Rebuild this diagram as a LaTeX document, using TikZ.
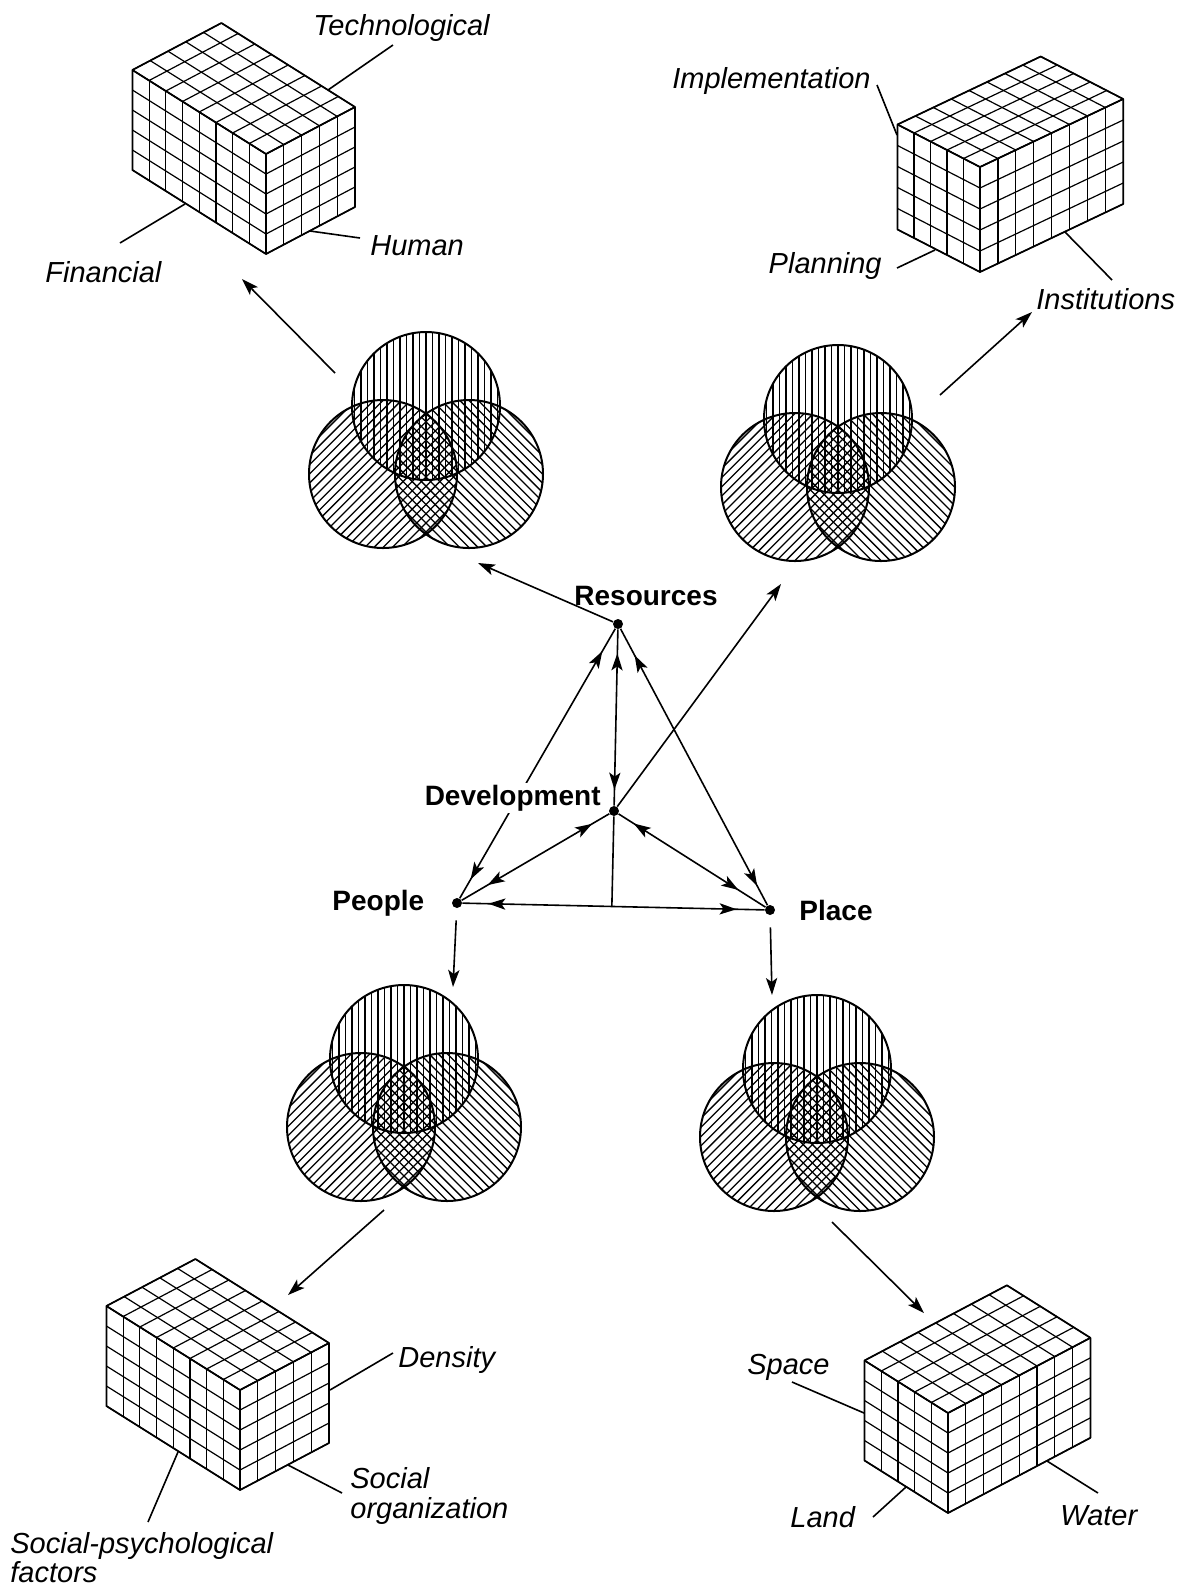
\documentclass[tikz,border=0pt]{standalone}
\usepackage{fontspec}
\setmainfont{Liberation Sans}
\usetikzlibrary{arrows.meta,calc,decorations.markings}
\tikzset{
  cubeln/.style={line width=0.6pt},
  cubeedge/.style={line width=0.85pt, line join=round},
  hatchln/.style={line width=0.65pt},
  ringln/.style={line width=1pt},
  link/.style={line width=0.8pt},
  leader/.style={line width=0.8pt},
  netdot/.style={circle, fill=black, inner sep=0pt, minimum size=5pt},
  keylab/.style={font=\fontsize{14}{16}\selectfont\bfseries, inner sep=1pt},
  itlab/.style={font=\fontsize{14.5}{17}\selectfont\itshape, inner sep=0pt},
  >={Stealth[length=8.5pt,width=5.6pt,inset=2pt]},
  twoheads/.style 2 args={postaction={decorate}, decoration={markings,
      mark=at position #1 with {\arrowreversed{>}},
      mark=at position -#2 with {\arrow{>}}}},
}
% cuboid: #1 shift (front-top vertex), #2 cells on left face, #3 cells on right face, #4 axis vectors
\newcommand\cuboid[4]{%
  \begin{scope}[shift={#1},#4]
    \foreach \i in {0,...,#2} \draw[cubeln] (\i,0,0) -- (\i,#3,0);
    \foreach \k in {0,...,#3} \draw[cubeln] (0,\k,0) -- (#2,\k,0);
    \foreach \i in {0,...,#2} \draw[cubeln] (\i,0,0) -- (\i,0,5);
    \foreach \j in {0,...,5} \draw[cubeln] (0,0,\j) -- (#2,0,\j);
    \foreach \k in {0,...,#3} \draw[cubeln] (0,\k,0) -- (0,\k,5);
    \foreach \j in {0,...,5} \draw[cubeln] (0,0,\j) -- (0,#3,\j);
    \draw[cubeedge] (#2,0,0) -- (#2,#3,0) -- (0,#3,0) -- (0,#3,5) -- (0,0,5) -- (#2,0,5) -- cycle;
    \draw[cubeedge] (#2,0,0) -- (0,0,0) -- (0,#3,0) (0,0,0) -- (0,0,5);
  \end{scope}}
% three-circle hatched diagram, #1 = centre of top circle
\newcommand\venn[1]{%
  \begin{scope}[shift={#1}]
    \begin{scope}
      \clip (0,0) circle[radius=37pt];
      \foreach \k in {-78,-71.5,...,78} \draw[hatchln] (\k,-80) -- (\k,80);
    \end{scope}
    \begin{scope}[shift={(-43,68)}]
      \clip (0,0) circle[radius=37pt];
      \foreach \k in {-78,-71.5,...,78} \draw[hatchln,rotate=-45] (\k,-80) -- (\k,80);
    \end{scope}
    \begin{scope}[shift={(43,68)}]
      \clip (0,0) circle[radius=37pt];
      \foreach \k in {-78,-71.5,...,78} \draw[hatchln,rotate=45] (\k,-80) -- (\k,80);
    \end{scope}
    \draw[ringln] (0,0) circle[radius=37pt] (-43,68) circle[radius=37pt] (43,68) circle[radius=37pt];
  \end{scope}}
\begin{document}
\begin{tikzpicture}[x=0.5pt,y=-0.5pt]
\fill[white] (0,0) rectangle (1185,1592);
\useasboundingbox (0,0) rectangle (1185,1592);

% ---------- cubes ----------
\cuboid{(266,154)}{8}{5}{x={(-8.35pt,5.25pt)},y={(8.9pt,4.7pt)},z={(0pt,-10pt)}}
\cuboid{(980,167)}{5}{8}{x={(-8.25pt,4.25pt)},y={(8.95pt,4.25pt)},z={(0pt,-10.5pt)}}
\cuboid{(240,1390)}{8}{5}{x={(-8.35pt,5.25pt)},y={(8.9pt,4.7pt)},z={(0pt,-10pt)}}
\cuboid{(948,1413)}{5}{8}{x={(-8.35pt,5.25pt)},y={(8.9pt,4.7pt)},z={(0pt,-10pt)}}

% ---------- venn diagrams ----------
\venn{(426,406)}
\venn{(838,419)}
\venn{(404,1059)}
\venn{(817,1069)}

% ---------- cube labels ----------
\node[itlab, anchor=base west] (tech) at (313,35) {Technological};
\node[itlab, anchor=base west] (human) at (370,255) {Human};
\node[itlab, anchor=base west] (fin) at (45,282) {Financial};
\node[itlab, anchor=base east] (impl) at (871,88) {Implementation};
\node[itlab, anchor=base east] (plan) at (882,273) {Planning};
\node[itlab, anchor=base west] (inst) at (1036,309) {Institutions};
\node[itlab, anchor=base west] (dens) at (398,1367) {Density};
\node[itlab, anchor=base west] (soc1) at (350,1488) {Social};
\node[itlab, anchor=base west] (soc2) at (350,1518) {organization};
\node[itlab, anchor=base west] (psy1) at (10,1553) {Social-psychological};
\node[itlab, anchor=base west] (psy2) at (10,1582) {factors};
\node[itlab, anchor=base west] (space) at (747,1374) {Space};
\node[itlab, anchor=base west] (land) at (790,1527) {Land};
\node[itlab, anchor=base west] (water) at (1060,1525) {Water};

% ---------- leader lines ----------
\coordinate (techA) at (328,90);   \coordinate (techB) at (393,45);
\coordinate (humA) at (310,231);   \coordinate (humB) at (360,238);
\coordinate (finA) at (185,204);   \coordinate (finB) at (120,243);
\coordinate (implA) at (877,85);   \coordinate (implB) at (897,135);
\coordinate (planA) at (935,250);  \coordinate (planB) at (897,268);
\coordinate (instA) at (1065,232); \coordinate (instB) at (1112,280);
\coordinate (densA) at (330,1390); \coordinate (densB) at (393,1353);
\coordinate (socA) at (288,1465);  \coordinate (socB) at (342,1493);
\coordinate (psyA) at (178,1452);  \coordinate (psyB) at (148,1522);
\coordinate (spaA) at (792,1382);  \coordinate (spaB) at (864,1413);
\coordinate (lanA) at (873,1517);  \coordinate (lanB) at (906,1487);
\coordinate (watA) at (1047,1461); \coordinate (watB) at (1098,1493);
\foreach \p in {tech,hum,fin,impl,plan,inst,dens,soc,psy,spa,lan,wat}
  \draw[leader] (\p A) -- (\p B);

% ---------- venn to cube arrows ----------
\coordinate (tlA) at (335,373);  \coordinate (tlB) at (242,279);
\coordinate (trA) at (940,395);  \coordinate (trB) at (1032,312);
\coordinate (blA) at (384,1210); \coordinate (blB) at (288,1295);
\coordinate (brA) at (832,1222); \coordinate (brB) at (924,1313);
\foreach \p in {tl,tr,bl,br}
  \draw[link,->] (\p A) -- (\p B);

% ---------- central network ----------
\node[netdot] (R) at (618,624) {};
\node[netdot] (D) at (614,811) {};
\node[netdot] (Pe) at (457,903) {};
\node[netdot] (Pl) at (770,910) {};
\coordinate (tlin) at (478,563);
\coordinate (trin) at (781,584);
\coordinate (blin) at (453,987);
\coordinate (brin) at (772,995);

\draw[link,->] (R) -- (tlin);
\draw[link,->] (D) -- (trin);
\draw[link,->,shorten <=6pt] (Pe) -- (blin);
\draw[link,->,shorten <=6pt] (Pl) -- (brin);

\draw[link,twoheads={13pt}{11pt}] (R) -- (Pe);
\draw[link,twoheads={12pt}{8pt}] (R) -- (D);
\draw[link,twoheads={15pt}{11pt}] (R) -- (Pl);
\draw[link,twoheads={10pt}{15pt}] (D) -- (Pe);
\draw[link,twoheads={9pt}{16pt}] (D) -- (Pl);
\draw[link,twoheads={13pt}{14pt}] (Pe) -- (Pl);
\draw[link] (D) -- ($(Pe)!(D)!(Pl)$);

\node[keylab, anchor=base west] (resl) at (572,605) {Resources};
\node[keylab, anchor=base east, fill=white] (devl) at (603,805) {Development};
\node[keylab, anchor=base west] (peol) at (330,910) {People};
\node[keylab, anchor=base west] (plal) at (797,920) {Place};
\end{tikzpicture}
\end{document}
